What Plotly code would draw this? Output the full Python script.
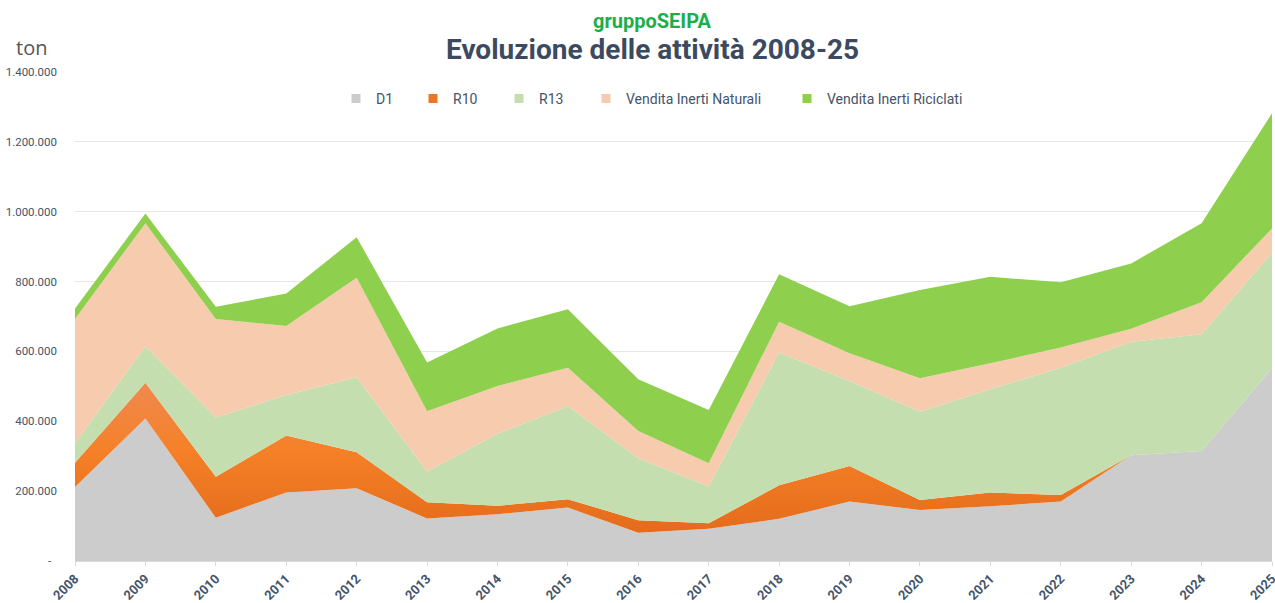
import plotly.graph_objects as go

years = list(range(2008, 2026))

d1 = [212000, 408000, 124000, 196000, 208000, 122000, 134000, 153000, 81000,
      92000, 121000, 170000, 146000, 157000, 170000, 303000, 315000, 552000]
r10 = [69000, 102000, 117000, 163000, 103000, 46000, 24000, 24000, 36000,
       16000, 96000, 102000, 29000, 39000, 19000, 0, 0, 0]
r13 = [56000, 105000, 170000, 116000, 215000, 88000, 206000, 267000, 177000,
       105000, 380000, 243000, 252000, 296000, 364000, 325000, 334000, 331000]
naturali = [356000, 352000, 282000, 198000, 285000, 173000, 137000, 109000, 78000,
            67000, 88000, 80000, 96000, 74000, 58000, 37000, 92000, 69000]
riciclati = [30000, 28000, 35000, 93000, 116000, 139000, 165000, 168000, 148000,
             152000, 136000, 134000, 253000, 248000, 187000, 187000, 226000, 330000]

series_names = ["D1", "R10", "R13", "Vendita Inerti Naturali", "Vendita Inerti Riciclati"]
series_values = [d1, r10, r13, naturali, riciclati]
series_colors = ["#cccccc", "#ee7524", "#c4deb0", "#f7cbad", "#8ed04d"]

ytick_vals = [0, 200000, 400000, 600000, 800000, 1000000, 1200000, 1400000]
ytick_text = ["-\u00a0\u00a0", "200.000", "400.000", "600.000", "800.000",
              "1.000.000", "1.200.000", "1.400.000"]

FONT = "Roboto, Liberation Sans, sans-serif"
SLATE = "#44546a"

W, H = 1275, 603
PL, PR, PT, PB = 75, 3, 72, 42
plot_w = W - PL - PR


def px_to_paper_x(px):
    return (px - PL) / plot_w


legend_marker_px = [355, 432, 518, 605, 806]
legend_ids = ["legend", "legend2", "legend3", "legend4", "legend5"]

fig = go.Figure()
for name, vals, col in zip(series_names, series_values, series_colors):
    kw = {}
    if name == "R10":
        kw["fillgradient"] = dict(
            type="vertical",
            colorscale=[[0, "#e2691a"], [0.55, "#f58027"], [1, "#ef8a52"]],
            start=60000, stop=520000,
        )
    fig.add_trace(go.Scatter(
        x=years, y=vals, name=name, stackgroup="one", mode="none",
        fillcolor=col, showlegend=False, hoverinfo="x+y+name", **kw,
    ))

for name, col, lid in zip(series_names, series_colors, legend_ids):
    fig.add_trace(go.Scatter(
        x=[None], y=[None], name=name, mode="markers",
        marker=dict(symbol="square", size=9, color=col),
        showlegend=True, hoverinfo="skip", legend=lid,
    ))

layout_legends = {}
for lid, mx in zip(legend_ids, legend_marker_px):
    layout_legends[lid] = dict(
        x=px_to_paper_x(mx - 19), xanchor="left", y=0.945, yanchor="middle",
        orientation="h", font=dict(family=FONT, size=14, color=SLATE),
        bgcolor="rgba(0,0,0,0)", itemwidth=30,
    )

fig.update_layout(
    width=W, height=H,
    margin=dict(l=PL, r=PR, t=PT, b=PB, autoexpand=False),
    paper_bgcolor="white", plot_bgcolor="white",
    showlegend=True,
    xaxis=dict(
        range=[2008, 2025], tickmode="array", tickvals=years,
        ticktext=[str(y) for y in years], tickangle=-45,
        tickfont=dict(family=FONT, size=13, color=SLATE, weight="bold"),
        showgrid=False, showline=True, linecolor="#d9d9d9", linewidth=1,
        ticks="outside", ticklen=4, tickcolor="#d9d9d9", zeroline=False,
        automargin=False, ticklabeloverflow="allow",
    ),
    yaxis=dict(
        range=[0, 1400000], tickmode="array", tickvals=ytick_vals, ticktext=ytick_text,
        tickfont=dict(family=FONT, size=11.5, color=SLATE),
        showgrid=True, gridcolor="#e6e6e6", gridwidth=1, zeroline=False,
        showline=False, ticklabelstandoff=17, automargin=False,
    ),
    annotations=[
        dict(text="<b>gruppoSEIPA</b>", x=px_to_paper_x(652), y=1.104, xref="paper", yref="paper",
             xanchor="center", yanchor="middle", showarrow=False,
             font=dict(family=FONT, size=20, color="#1dae4a")),
        dict(text="<b>Evoluzione delle attività 2008-25</b>", x=px_to_paper_x(652), y=1.045,
             xref="paper", yref="paper", xanchor="center", yanchor="middle",
             showarrow=False, font=dict(family=FONT, size=28, color="#3c4a60")),
        dict(text="ton", x=px_to_paper_x(31), y=1.051, xref="paper", yref="paper",
             xanchor="center", yanchor="middle", showarrow=False,
             font=dict(family="Open Sans, sans-serif", size=20, color="#555555")),
    ],
    **layout_legends,
)

fig.write_html(
    "out.html",
    config={"displayModeBar": False},
    post_script="document.body.style.margin='0';document.body.style.overflow='hidden';",
)
